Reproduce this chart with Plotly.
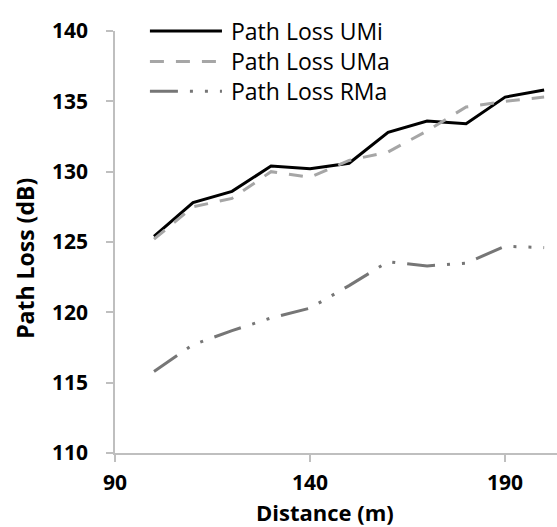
import plotly.graph_objects as go

# Distance (m) and path loss (dB) for each propagation scenario
distance = [100, 110, 120, 130, 140, 150, 160, 170, 180, 190, 200]
pl_umi = [125.4, 127.8, 128.6, 130.4, 130.2, 130.6, 132.8, 133.6, 133.4, 135.3, 135.8]
pl_uma = [125.2, 127.5, 128.1, 130.0, 129.6, 130.8, 131.4, 132.9, 134.6, 135.0, 135.3]
pl_rma = [115.8, 117.7, 118.7, 119.6, 120.3, 121.9, 123.6, 123.3, 123.5, 124.7, 124.6]

series_names = ["Path Loss UMi", "Path Loss UMa", "Path Loss RMa"]
x_ticks = [90, 140, 190]
y_ticks = [110, 115, 120, 125, 130, 135, 140]

styles = [
    dict(color="#000000", width=3, dash="solid"),
    dict(color="#a6a6a6", width=3, dash="14px,12px"),
    dict(color="#767676", width=3, dash="28px,12px,3px,12px,3px,12px"),
]

FONT = "Open Sans"
AXIS_COLOR = "#bfbfbf"

fig = go.Figure()
for name, values, st in zip(series_names, [pl_umi, pl_uma, pl_rma], styles):
    fig.add_trace(go.Scatter(x=distance, y=values, mode="lines", name=name,
                             line=st, showlegend=False))

# Legend drawn in paper space: line sample plus label per series
legend_rows = [1.0, 0.928, 0.857]
for name, st, yy in zip(series_names, styles, legend_rows):
    fig.add_shape(type="line", xref="paper", yref="paper",
                  x0=0.079, x1=0.242, y0=yy, y1=yy, line=st)
    fig.add_annotation(xref="paper", yref="paper", x=0.258, y=yy,
                       text=name, showarrow=False, xanchor="left", yanchor="middle",
                       font=dict(family=FONT, size=23, color="#000000"))

# Axis titles
fig.add_annotation(xref="paper", yref="paper", x=-0.204, y=0.462,
                   text="<b>Path Loss (dB)</b>", showarrow=False, textangle=-90,
                   xanchor="center", yanchor="middle",
                   font=dict(family=FONT, size=23, color="#000000"))
fig.add_annotation(xref="paper", yref="paper", x=0.475, y=-0.14,
                   text="<b>Distance (m)</b>", showarrow=False,
                   xanchor="center", yanchor="middle",
                   font=dict(family=FONT, size=22, color="#000000"))

tick_font = dict(family=FONT, size=21, color="#000000", weight="bold")

fig.update_xaxes(range=[90, 203.3], tickvals=x_ticks, ticktext=[str(v) for v in x_ticks],
                 showgrid=False, zeroline=False, showline=True, linecolor=AXIS_COLOR,
                 linewidth=1.5, ticks="outside", ticklen=7, tickcolor=AXIS_COLOR,
                 tickwidth=1.5, tickfont=tick_font, ticklabelstandoff=3)
fig.update_yaxes(range=[110, 140], tickvals=y_ticks, ticktext=[str(v) for v in y_ticks],
                 showgrid=False, zeroline=False, showline=True, linecolor=AXIS_COLOR,
                 linewidth=1.5, ticks="outside", ticklen=7, tickcolor=AXIS_COLOR,
                 tickwidth=1.5, tickfont=tick_font, ticklabelstandoff=14)

fig.update_layout(width=557, height=527, margin=dict(l=115, r=0, t=31, b=74),
                  plot_bgcolor="white", paper_bgcolor="white",
                  font=dict(family=FONT))

fig.write_html("out.html")
